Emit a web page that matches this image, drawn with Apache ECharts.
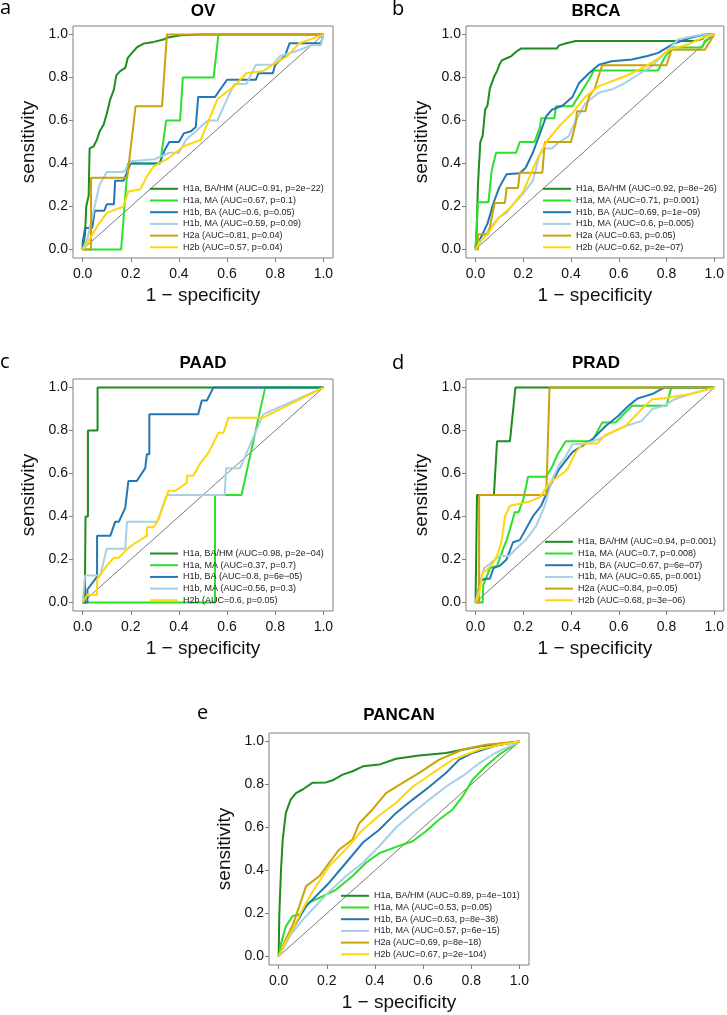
<!DOCTYPE html>
<html>
<head>
<meta charset="utf-8">
<script src="https://cdn.jsdelivr.net/npm/echarts@6/dist/echarts.min.js"></script>
<style>
  html, body { margin: 0; padding: 0; background: #fff; }
  #main { width: 727px; height: 1015px; }
</style>
</head>
<body>
<div id="main"></div>
<script>
(function () {
    'use strict';

    // tick values shared by every panel
    var ticks = [0, 0.2, 0.4, 0.6, 0.8, 1.0];
    var diagonal = [[0, 0], [1, 1]];

    var panelTitles = ['OV', 'BRCA', 'PAAD', 'PRAD', 'PANCAN'];
    var panelLetters = ['a', 'b', 'c', 'd', 'e'];

    // curve colours: H1a BA/HM, H1a MA, H1b BA, H1b MA, H2a, H2b
    var curveColors = ['#1E8C1E', '#2BE02B', '#2477B5', '#A9CFE6', '#C9A30C', '#FFD60A'];

    // ---- OV ----
    var ovLabels = ['H1a, BA/HM (AUC=0.91, p=2e\u221222)', 'H1a, MA (AUC=0.67, p=0.1)', 'H1b, BA (AUC=0.6, p=0.05)',
        'H1b, MA (AUC=0.59, p=0.09)', 'H2a (AUC=0.81, p=0.04)', 'H2b (AUC=0.57, p=0.04)'];
    var ovBaHm = [[0,0],[0.01,0.07],[0.015,0.2],[0.025,0.25],[0.029,0.47],[0.046,0.48],[0.059,0.51],[0.071,0.55],[0.087,0.58],[0.1,0.63],[0.115,0.7],[0.129,0.74],[0.14,0.81],[0.156,0.83],[0.177,0.845],[0.187,0.89],[0.205,0.915],[0.225,0.94],[0.253,0.958],[0.295,0.966],[0.336,0.977],[0.35,0.985],[0.405,0.997],[0.49,1],[1,1]];
    var ovMa = [[0,0],[0.16,0],[0.188,0.4],[0.322,0.4],[0.347,0.6],[0.405,0.6],[0.416,0.8],[0.544,0.8],[0.564,1],[1,1]];
    var ovBa = [[0,0],[0,0.03],[0.01,0.1],[0.04,0.1],[0.05,0.18],[0.09,0.18],[0.1,0.21],[0.13,0.21],[0.135,0.32],[0.17,0.32],[0.2,0.4],[0.32,0.4],[0.34,0.46],[0.36,0.5],[0.4,0.5],[0.42,0.54],[0.45,0.55],[0.47,0.57],[0.48,0.71],[0.55,0.71],[0.6,0.79],[0.72,0.79],[0.73,0.82],[0.79,0.82],[0.8,0.86],[0.82,0.88],[0.84,0.9],[0.86,0.96],[0.99,0.96],[1,1]];
    var ovMaB = [[0,0],[0.02,0.05],[0.05,0.2],[0.07,0.3],[0.1,0.36],[0.17,0.36],[0.2,0.41],[0.3,0.42],[0.36,0.45],[0.4,0.45],[0.43,0.51],[0.47,0.55],[0.5,0.58],[0.52,0.6],[0.56,0.6],[0.6,0.7],[0.63,0.77],[0.68,0.77],[0.72,0.86],[0.79,0.86],[0.82,0.9],[0.88,0.92],[0.95,0.95],[0.99,0.95],[1,1]];
    var ovH2a = [[0,0],[0.035,0],[0.035,0.333],[0.185,0.333],[0.22,0.667],[0.33,0.667],[0.35,1],[1,1]];
    var ovH2b = [[0,0],[0.02,0.03],[0.06,0.107],[0.1,0.17],[0.17,0.2],[0.19,0.27],[0.24,0.28],[0.267,0.34],[0.295,0.387],[0.35,0.42],[0.42,0.48],[0.49,0.51],[0.52,0.59],[0.56,0.7],[0.63,0.76],[0.68,0.82],[0.75,0.83],[0.79,0.86],[0.85,0.9],[0.9,0.96],[1,1]];

    // ---- BRCA ----
    var brLabels = ['H1a, BA/HM (AUC=0.92, p=8e\u221226)', 'H1a, MA (AUC=0.71, p=0.001)', 'H1b, BA (AUC=0.69, p=1e\u221209)',
        'H1b, MA (AUC=0.6, p=0.005)', 'H2a (AUC=0.63, p=0.05)', 'H2b (AUC=0.62, p=2e\u221207)'];
    var brBaHm = [[0,0],[0.005,0.1],[0.01,0.3],[0.02,0.5],[0.03,0.53],[0.04,0.65],[0.05,0.67],[0.06,0.75],[0.07,0.78],[0.08,0.81],[0.09,0.83],[0.1,0.86],[0.11,0.88],[0.13,0.89],[0.15,0.9],[0.17,0.92],[0.19,0.935],[0.34,0.935],[0.35,0.95],[0.38,0.96],[0.42,0.97],[0.92,0.97],[0.95,0.98],[0.97,1],[1,1]];
    var brMa = [[0,0],[0.005,0.11],[0.01,0.22],[0.054,0.22],[0.068,0.37],[0.086,0.45],[0.17,0.45],[0.185,0.5],[0.247,0.5],[0.27,0.57],[0.275,0.61],[0.33,0.61],[0.337,0.667],[0.406,0.667],[0.43,0.71],[0.475,0.79],[0.496,0.833],[0.765,0.833],[0.79,0.89],[0.81,0.92],[0.82,0.94],[0.95,0.94],[0.96,0.97],[1,1]];
    var brBa = [[0,0],[0.02,0.05],[0.05,0.12],[0.075,0.216],[0.1,0.29],[0.13,0.35],[0.185,0.355],[0.21,0.38],[0.24,0.45],[0.27,0.54],[0.296,0.62],[0.32,0.65],[0.365,0.67],[0.406,0.71],[0.434,0.775],[0.475,0.82],[0.517,0.86],[0.57,0.876],[0.655,0.884],[0.72,0.9],[0.765,0.915],[0.834,0.96],[0.9,0.985],[0.96,1],[1,1]];
    var brMaB = [[0,0],[0.03,0.05],[0.06,0.1],[0.1,0.15],[0.13,0.17],[0.15,0.2],[0.2,0.26],[0.24,0.32],[0.268,0.44],[0.29,0.47],[0.32,0.47],[0.35,0.5],[0.39,0.526],[0.42,0.6],[0.46,0.68],[0.517,0.73],[0.57,0.744],[0.627,0.775],[0.69,0.82],[0.735,0.85],[0.8,0.92],[0.848,0.977],[0.9,0.99],[0.95,1],[1,1]];
    var brH2a = [[0,0],[0.01,0],[0.01,0.07],[0.054,0.07],[0.068,0.15],[0.08,0.216],[0.123,0.216],[0.13,0.286],[0.178,0.286],[0.185,0.357],[0.28,0.357],[0.29,0.5],[0.4,0.5],[0.42,0.59],[0.425,0.643],[0.46,0.643],[0.475,0.71],[0.5,0.75],[0.53,0.857],[0.8,0.857],[0.82,0.929],[0.96,0.929],[1,1]];
    var brH2b = [[0,0],[0.02,0.04],[0.05,0.07],[0.08,0.12],[0.1,0.15],[0.15,0.2],[0.2,0.27],[0.254,0.41],[0.296,0.5],[0.35,0.573],[0.406,0.635],[0.46,0.71],[0.517,0.76],[0.627,0.806],[0.71,0.85],[0.766,0.89],[0.81,0.93],[0.88,0.95],[0.92,0.97],[0.96,0.99],[1,1]];

    // ---- PAAD (no H2a curve) ----
    var paLabels = ['H1a, BA/HM (AUC=0.98, p=2e\u221204)', 'H1a, MA (AUC=0.37, p=0.7)', 'H1b, BA (AUC=0.8, p=6e\u221205)',
        'H1b, MA (AUC=0.56, p=0.3)', 'H2b (AUC=0.6, p=0.05)'];
    var paBaHm = [[0,0],[0.01,0],[0.01,0.13],[0.012,0.4],[0.022,0.4],[0.022,0.8],[0.062,0.8],[0.062,1],[1,1]];
    var paMa = [[0,0],[0.55,0],[0.55,0.5],[0.66,0.5],[0.758,1],[1,1]];
    var paBa = [[0,0],[0.02,0],[0.02,0.06],[0.06,0.12],[0.06,0.31],[0.115,0.31],[0.135,0.375],[0.15,0.375],[0.177,0.44],[0.19,0.565],[0.225,0.565],[0.26,0.625],[0.267,0.69],[0.277,0.69],[0.277,0.876],[0.48,0.876],[0.495,0.94],[0.516,0.94],[0.543,1],[1,1]];
    var paMaB = [[0,0],[0.01,0.125],[0.073,0.125],[0.1,0.25],[0.177,0.25],[0.184,0.375],[0.31,0.375],[0.35,0.5],[0.59,0.5],[0.596,0.625],[0.654,0.625],[0.75,0.875],[1,1]];
    var paH2b = [[0,0],[0.02,0.036],[0.06,0.036],[0.06,0.107],[0.1,0.17],[0.13,0.208],[0.15,0.208],[0.184,0.247],[0.21,0.27],[0.267,0.31],[0.267,0.35],[0.295,0.35],[0.315,0.387],[0.357,0.52],[0.385,0.52],[0.433,0.557],[0.433,0.59],[0.46,0.59],[0.49,0.65],[0.523,0.697],[0.564,0.79],[0.585,0.79],[0.606,0.86],[0.75,0.86],[1,1]];

    // ---- PRAD ----
    var prLabels = ['H1a, BA/HM (AUC=0.94, p=0.001)', 'H1a, MA (AUC=0.7, p=0.008)', 'H1b, BA (AUC=0.67, p=6e\u221207)',
        'H1b, MA (AUC=0.65, p=0.001)', 'H2a (AUC=0.84, p=0.05)', 'H2b (AUC=0.68, p=3e\u221206)'];
    var prBaHm = [[0,0],[0.006,0],[0.006,0.5],[0.077,0.5],[0.09,0.75],[0.144,0.75],[0.167,1],[1,1]];
    var prMa = [[0,0],[0.03,0],[0.032,0.08],[0.047,0.12],[0.06,0.16],[0.09,0.17],[0.1,0.2],[0.116,0.25],[0.13,0.29],[0.144,0.34],[0.164,0.42],[0.18,0.42],[0.2,0.48],[0.22,0.585],[0.296,0.585],[0.32,0.63],[0.344,0.69],[0.378,0.75],[0.489,0.75],[0.53,0.837],[0.586,0.837],[0.655,0.915],[0.8,0.915],[0.82,1],[1,1]];
    var prBa = [[0,0],[0.01,0.05],[0.02,0.1],[0.04,0.11],[0.06,0.11],[0.075,0.16],[0.1,0.17],[0.13,0.2],[0.157,0.28],[0.185,0.29],[0.21,0.34],[0.24,0.4],[0.275,0.45],[0.31,0.54],[0.35,0.62],[0.406,0.7],[0.49,0.76],[0.544,0.82],[0.6,0.87],[0.64,0.915],[0.68,0.95],[0.74,0.97],[0.79,1],[1,1]];
    var prMaB = [[0,0],[0.02,0.1],[0.036,0.16],[0.06,0.18],[0.1,0.216],[0.14,0.216],[0.17,0.25],[0.21,0.29],[0.254,0.356],[0.29,0.45],[0.32,0.57],[0.35,0.64],[0.378,0.68],[0.406,0.736],[0.46,0.74],[0.517,0.76],[0.57,0.79],[0.627,0.82],[0.696,0.845],[0.74,0.9],[0.79,0.915],[0.834,0.946],[0.9,0.97],[1,1]];
    var prH2a = [[0,0],[0.015,0],[0.015,0.5],[0.296,0.5],[0.31,1],[1,1]];
    var prH2b = [[0,0],[0.015,0.04],[0.03,0.14],[0.047,0.15],[0.075,0.185],[0.095,0.23],[0.11,0.29],[0.123,0.4],[0.144,0.45],[0.17,0.456],[0.227,0.47],[0.27,0.49],[0.3,0.54],[0.32,0.565],[0.365,0.6],[0.385,0.62],[0.42,0.7],[0.45,0.74],[0.51,0.74],[0.544,0.78],[0.627,0.82],[0.696,0.9],[0.74,0.946],[0.79,0.95],[0.9,0.97],[1,1]];

    // ---- PANCAN ----
    var pcLabels = ['H1a, BA/HM (AUC=0.89, p=4e\u2212101)', 'H1a, MA (AUC=0.53, p=0.05)', 'H1b, BA (AUC=0.63, p=8e\u221238)',
        'H1b, MA (AUC=0.57, p=6e\u221215)', 'H2a (AUC=0.69, p=8e\u221218)', 'H2b (AUC=0.67, p=2e\u2212104)'];
    var pcBaHm = [[0,0],[0.003,0.2],[0.01,0.405],[0.017,0.544],[0.03,0.668],[0.05,0.73],[0.072,0.76],[0.1,0.777],[0.14,0.808],[0.197,0.81],[0.224,0.82],[0.266,0.846],[0.307,0.862],[0.35,0.885],[0.418,0.893],[0.488,0.92],[0.584,0.935],[0.695,0.947],[0.78,0.966],[0.85,0.98],[0.917,0.99],[1,1]];
    var pcMa = [[0,0],[0.01,0.06],[0.03,0.14],[0.058,0.188],[0.086,0.195],[0.127,0.25],[0.183,0.28],[0.238,0.31],[0.307,0.374],[0.363,0.436],[0.418,0.48],[0.488,0.51],[0.557,0.536],[0.612,0.583],[0.667,0.637],[0.723,0.684],[0.765,0.746],[0.806,0.823],[0.86,0.885],[0.917,0.94],[1,1]];
    var pcBa = [[0,0],[0.03,0.07],[0.06,0.13],[0.114,0.234],[0.21,0.343],[0.28,0.436],[0.35,0.53],[0.418,0.59],[0.488,0.668],[0.557,0.73],[0.626,0.79],[0.695,0.854],[0.75,0.916],[0.806,0.947],[0.9,0.98],[1,1]];
    var pcMaB = [[0,0],[0.05,0.1],[0.1,0.17],[0.15,0.23],[0.2,0.29],[0.28,0.374],[0.35,0.436],[0.418,0.513],[0.488,0.6],[0.557,0.668],[0.626,0.73],[0.695,0.79],[0.765,0.84],[0.834,0.9],[0.9,0.947],[1,1]];
    var pcH2a = [[0,0],[0.03,0.08],[0.06,0.15],[0.086,0.234],[0.114,0.327],[0.17,0.374],[0.21,0.436],[0.252,0.498],[0.307,0.544],[0.335,0.62],[0.39,0.684],[0.446,0.76],[0.515,0.808],[0.584,0.854],[0.667,0.916],[0.765,0.963],[0.86,0.985],[1,1]];
    var pcH2b = [[0,0],[0.03,0.07],[0.06,0.13],[0.1,0.22],[0.14,0.3],[0.21,0.42],[0.28,0.5],[0.35,0.59],[0.418,0.656],[0.488,0.715],[0.557,0.79],[0.64,0.854],[0.723,0.916],[0.834,0.963],[0.92,0.985],[1,1]];

    var panelCurves = [
        [ovBaHm, ovMa, ovBa, ovMaB, ovH2a, ovH2b],
        [brBaHm, brMa, brBa, brMaB, brH2a, brH2b],
        [paBaHm, paMa, paBa, paMaB, paH2b],
        [prBaHm, prMa, prBa, prMaB, prH2a, prH2b],
        [pcBaHm, pcMa, pcBa, pcMaB, pcH2a, pcH2b]
    ];
    var panelColorIdx = [[0,1,2,3,4,5], [0,1,2,3,4,5], [0,1,2,3,5], [0,1,2,3,4,5], [0,1,2,3,4,5]];
    var panelLabels = [ovLabels, brLabels, paLabels, prLabels, pcLabels];

    // layout (pixels)
    var boxes = [
        { left: 73, top: 26, legendLeft: 150, titleTop: 3, letterLeft: 0, letterTop: -2 },
        { left: 466, top: 26, legendLeft: 543, titleTop: 3, letterLeft: 392, letterTop: -1 },
        { left: 73, top: 379, legendLeft: 150, titleTop: 355, letterLeft: 0, letterTop: 352 },
        { left: 466, top: 379, legendLeft: 545, titleTop: 355, letterLeft: 392, letterTop: 353 },
        { left: 269, top: 733, legendLeft: 341, titleTop: 707, letterLeft: 197, letterTop: 703 }
    ];
    var boxW = 260, boxH = 232;
    var font = '"Liberation Sans", Arial, sans-serif';

    var myChart = echarts.init(document.getElementById('main'));

    var grids = [], xAxes = [], yAxes = [], titles = [], legends = [], series = [];

    boxes.forEach(function (b, i) {
        grids.push({
            left: b.left, top: b.top, width: boxW, height: boxH,
            show: true, borderColor: '#808080', borderWidth: 1, backgroundColor: 'transparent'
        });
        var common = {
            gridIndex: i, type: 'value', min: -0.04, max: 1.04,
            splitLine: { show: false },
            axisLine: { show: false, onZero: false },
            axisTick: { show: true, inside: false, length: 4, customValues: ticks, lineStyle: { color: '#808080' } },
            nameLocation: 'middle',
            nameTextStyle: { fontSize: 19, color: '#111', fontFamily: font }
        };
        xAxes.push(Object.assign({}, common, {
            name: '1 \u2212 specificity', nameGap: 28,
            axisLabel: { customValues: ticks, margin: 9, fontSize: 14, color: '#111', fontFamily: font,
                formatter: function (v) { return v.toFixed(1); } }
        }));
        yAxes.push(Object.assign({}, common, {
            name: 'sensitivity', nameGap: 35,
            axisLabel: { customValues: ticks, margin: 5, fontSize: 14, color: '#111', fontFamily: font,
                formatter: function (v) { return v.toFixed(1); } }
        }));
        titles.push({
            text: panelTitles[i], left: b.left + boxW / 2, textAlign: 'center', top: b.titleTop, padding: 0,
            textStyle: { fontSize: 17, fontWeight: 'bold', color: '#000', fontFamily: font }
        });
        titles.push({
            text: panelLetters[i], left: b.letterLeft, top: b.letterTop, padding: 0,
            textStyle: { fontSize: 20, fontWeight: 'normal', color: '#000', fontFamily: '"Open Sans", sans-serif' }
        });

        var labels = panelLabels[i];
        var n = labels.length;
        legends.push({
            orient: 'vertical', left: b.legendLeft,
            top: b.top + boxH - 10.7 - (n - 1) * 11.7 - 5,
            icon: 'rect', itemWidth: 28, itemHeight: 2, itemGap: 1.7, padding: 0,
            selectedMode: false, data: labels,
            textStyle: { fontSize: 9, lineHeight: 10, color: '#222', fontFamily: font }
        });

        series.push({
            type: 'line', xAxisIndex: i, yAxisIndex: i, data: diagonal,
            symbol: 'none', silent: true,
            lineStyle: { color: '#222', width: 0.6 }
        });
        panelCurves[i].forEach(function (curve, k) {
            var c = curveColors[panelColorIdx[i][k]];
            series.push({
                name: labels[k], type: 'line', xAxisIndex: i, yAxisIndex: i,
                data: curve, symbol: 'none', silent: true,
                itemStyle: { color: c },
                lineStyle: { color: c, width: 2 }
            });
        });
    });

    myChart.setOption({
        animation: false,
        backgroundColor: '#fff',
        title: titles,
        grid: grids,
        xAxis: xAxes,
        yAxis: yAxes,
        legend: legends,
        series: series
    });
})();
</script>
</body>
</html>
